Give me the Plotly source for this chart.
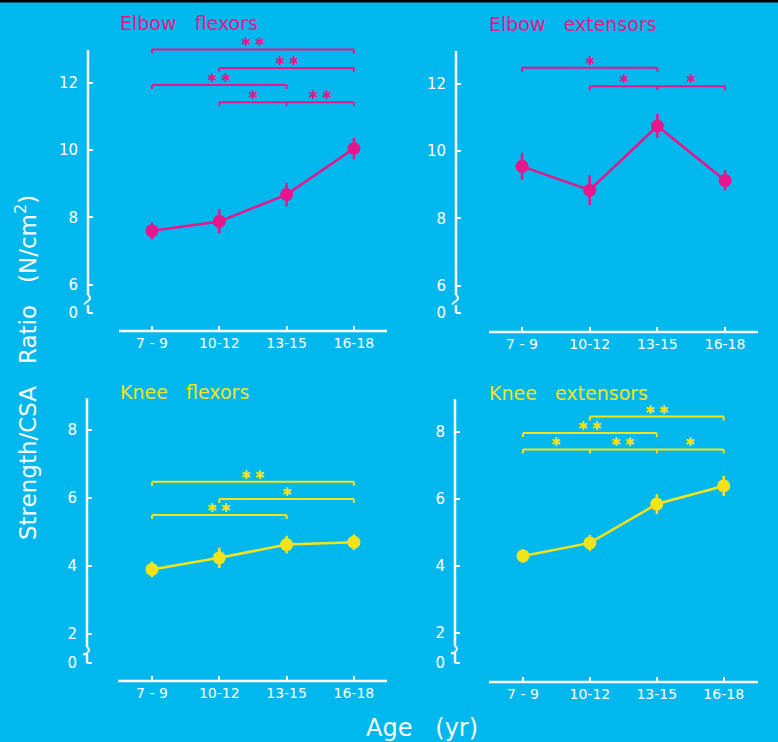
import plotly.graph_objects as go

W, H = 778, 742
BG = '#00B8EE'
MAG = '#E6178C'
YEL = '#F5E31A'
WHITE = '#FFFFFF'
FONT = 'DejaVu Sans'

# ---------------- data ----------------
categories = ["7 - 9", "10-12", "13-15", "16-18"]

elbow_flexors = [7.60, 7.88, 8.68, 10.05]
elbow_flexors_err = [0.25, 0.36, 0.35, 0.32]

elbow_extensors = [9.55, 8.84, 10.75, 9.13]
elbow_extensors_err = [0.40, 0.45, 0.36, 0.30]

knee_flexors = [3.90, 4.24, 4.63, 4.70]
knee_flexors_err = [0.23, 0.30, 0.26, 0.23]

knee_extensors = [4.30, 4.69, 5.85, 6.39]
knee_extensors_err = [0.20, 0.24, 0.30, 0.30]

upper_ticks = [6, 8, 10, 12]
lower_ticks = [2, 4, 6, 8]

# significance brackets: (from idx, to idx, level, interior tick idx, [(star x idx, text)])
elbow_flexors_sig = [
    (0, 3, 13.00, [], [(1.5, "**")]),
    (1, 3, 12.45, [], [(2.0, "**")]),
    (0, 2, 11.94, [], [(1.0, "**")]),
    (1, 3, 11.43, [2], [(1.5, "*"), (2.5, "**")]),
]
elbow_extensors_sig = [
    (0, 2, 12.48, [], [(1.0, "*")]),
    (1, 3, 11.93, [2], [(1.5, "*"), (2.5, "*")]),
]
knee_flexors_sig = [
    (0, 3, 6.48, [], [(1.5, "**")]),
    (1, 3, 5.97, [], [(2.0, "*")]),
    (0, 2, 5.50, [], [(1.0, "**")]),
]
knee_extensors_sig = [
    (1, 3, 8.46, [], [(2.0, "**")]),
    (0, 2, 7.97, [], [(1.0, "**")]),
    (0, 3, 7.48, [1, 2], [(0.5, "*"), (1.5, "**"), (2.5, "*")]),
]

# ---------------- panel geometry (pixels) ----------------
panels = [
    dict(title="Elbow   flexors", color=MAG, vals=elbow_flexors, err=elbow_flexors_err,
         sig=elbow_flexors_sig, ticks=upper_ticks,
         geo=dict(ax=88, c0=152, step=67.3, right=392, bot=331, top=34, yv=12, ypx=83, ppu=33.6,
                  ltop=50, brk=295, ltop2=305, zero=313, xl0=119, xl1=387, tx=118, ty=23)),
    dict(title="Elbow   extensors", color=MAG, vals=elbow_extensors, err=elbow_extensors_err,
         sig=elbow_extensors_sig, ticks=upper_ticks,
         geo=dict(ax=456, c0=522, step=67.7, right=762, bot=332, top=34, yv=12, ypx=84, ppu=33.6,
                  ltop=51, brk=295, ltop2=305, zero=313, xl0=489, xl1=758, tx=487, ty=24)),
    dict(title="Knee   flexors", color=YEL, vals=knee_flexors, err=knee_flexors_err,
         sig=knee_flexors_sig, ticks=lower_ticks,
         geo=dict(ax=87, c0=152, step=67.3, right=392, bot=681, top=390, yv=8, ypx=430, ppu=34.0,
                  ltop=398, brk=647, ltop2=654, zero=663, xl0=118, xl1=387, tx=118, ty=392)),
    dict(title="Knee   extensors", color=YEL, vals=knee_extensors, err=knee_extensors_err,
         sig=knee_extensors_sig, ticks=lower_ticks,
         geo=dict(ax=455, c0=523, step=66.9, right=762, bot=682, top=390, yv=8, ypx=432, ppu=33.5,
                  ltop=399, brk=646, ltop2=653, zero=663, xl0=489, xl1=758, tx=487, ty=393)),
]


def px(x):
    return x / W


def py(y):
    return 1 - y / H


fig = go.Figure()
layout = {}
shapes = []
annotations = []
x_idx = list(range(len(categories)))

for i, p in enumerate(panels):
    n = '' if i == 0 else str(i + 1)
    xa, ya = 'x' + n, 'y' + n
    g = p['geo']
    col = p['color']
    xr = [(g['ax'] - g['c0']) / g['step'], (g['right'] - g['c0']) / g['step']]
    yr = [g['yv'] - (g['bot'] - g['ypx']) / g['ppu'], g['yv'] + (g['ypx'] - g['top']) / g['ppu']]
    zero_val = g['yv'] - (g['zero'] - g['ypx']) / g['ppu']

    layout['xaxis' + n] = dict(
        domain=[px(g['ax']), px(g['right'])], range=xr, anchor=ya,
        tickvals=x_idx, ticktext=categories, ticks='inside', ticklen=5, tickwidth=2,
        tickcolor=WHITE, showline=False, showgrid=False, zeroline=False,
        tickfont=dict(family=FONT, size=14, color=WHITE), ticklabelstandoff=2,
        fixedrange=True)
    layout['yaxis' + n] = dict(
        domain=[py(g['bot']), py(g['top'])], range=yr, anchor=xa,
        tickvals=[zero_val] + p['ticks'], ticktext=['0'] + [str(t) for t in p['ticks']],
        ticks='inside', ticklen=5, tickwidth=2, tickcolor=WHITE,
        showline=False, showgrid=False, zeroline=False,
        tickfont=dict(family=FONT, size=15, color=WHITE), ticklabelstandoff=9,
        fixedrange=True)

    fig.add_trace(go.Scatter(
        x=x_idx, y=p['vals'], mode='lines+markers', xaxis=xa, yaxis=ya,
        line=dict(color=col, width=2.5),
        marker=dict(color=col, size=13),
        error_y=dict(type='data', array=p['err'], thickness=2.5, width=0, color=col),
        showlegend=False, hoverinfo='skip'))

    # axis lines (style)
    lw = 2.5
    shapes.append(dict(type='line', xref='paper', yref='paper',
                       x0=px(g['xl0']), x1=px(g['xl1']), y0=py(g['bot']), y1=py(g['bot']),
                       line=dict(color=WHITE, width=lw)))
    shapes.append(dict(type='line', xref='paper', yref='paper',
                       x0=px(g['ax']), x1=px(g['ax']), y0=py(g['ltop']), y1=py(g['brk']),
                       line=dict(color=WHITE, width=lw)))
    a, b = g['ax'], g['brk']
    path = (f"M {px(a)},{py(b)} Q {px(a + 4)},{py(b + 3)} {px(a)},{py(b + 6)} "
            f"T {px(a - 3)},{py(g['ltop2'] - 1)}")
    shapes.append(dict(type='path', xref='paper', yref='paper', path=path,
                       line=dict(color=WHITE, width=2)))
    shapes.append(dict(type='line', xref='paper', yref='paper',
                       x0=px(g['ax']), x1=px(g['ax']), y0=py(g['ltop2']), y1=py(g['zero']),
                       line=dict(color=WHITE, width=lw)))

    # significance brackets
    tick_d = 4 / g['ppu']
    star_d = 7 / g['ppu']
    for (i0, i1, lvl, inner, stars) in p['sig']:
        shapes.append(dict(type='line', xref=xa, yref=ya, x0=i0, x1=i1, y0=lvl, y1=lvl,
                           line=dict(color=col, width=2)))
        for t in [i0, i1] + inner:
            shapes.append(dict(type='line', xref=xa, yref=ya, x0=t, x1=t,
                               y0=lvl, y1=lvl - tick_d, line=dict(color=col, width=2)))
        for (sx, st) in stars:
            txt = '\u00a0'.join(['\u2731'] * len(st))
            annotations.append(dict(x=sx, y=lvl + star_d, xref=xa, yref=ya, text=txt,
                                    showarrow=False, xanchor='center', yanchor='middle',
                                    font=dict(family=FONT, size=12, color=col)))

    # panel title
    annotations.append(dict(x=px(g['tx']), y=py(g['ty']), xref='paper', yref='paper',
                            text=p['title'], showarrow=False, xanchor='left', yanchor='middle',
                            font=dict(family=FONT, size=19, color=col)))

# shared axis titles
annotations.append(dict(x=px(26), y=py(368), xref='paper', yref='paper',
                        text='Strength/CSA   Ratio   (N/cm<sup>2</sup>)', textangle=-90,
                        showarrow=False, xanchor='center', yanchor='middle',
                        font=dict(family=FONT, size=23, color=WHITE)))
annotations.append(dict(x=px(422), y=py(728), xref='paper', yref='paper',
                        text='Age   (yr)', showarrow=False, xanchor='center', yanchor='middle',
                        font=dict(family=FONT, size=24, color=WHITE)))

# black strip at top edge
shapes.append(dict(type='rect', xref='paper', yref='paper', x0=0, x1=1, y0=py(2.5), y1=1,
                   fillcolor='black', line=dict(width=0)))

fig.update_layout(
    width=W, height=H, margin=dict(l=0, r=0, t=0, b=0),
    paper_bgcolor=BG, plot_bgcolor=BG,
    shapes=shapes, annotations=annotations, showlegend=False,
    **layout)

fig.write_html("out.html", config={'displayModeBar': False},
               post_script="document.body.style.margin='0';document.body.style.padding='0';"
                           "document.body.style.overflow='hidden';")
